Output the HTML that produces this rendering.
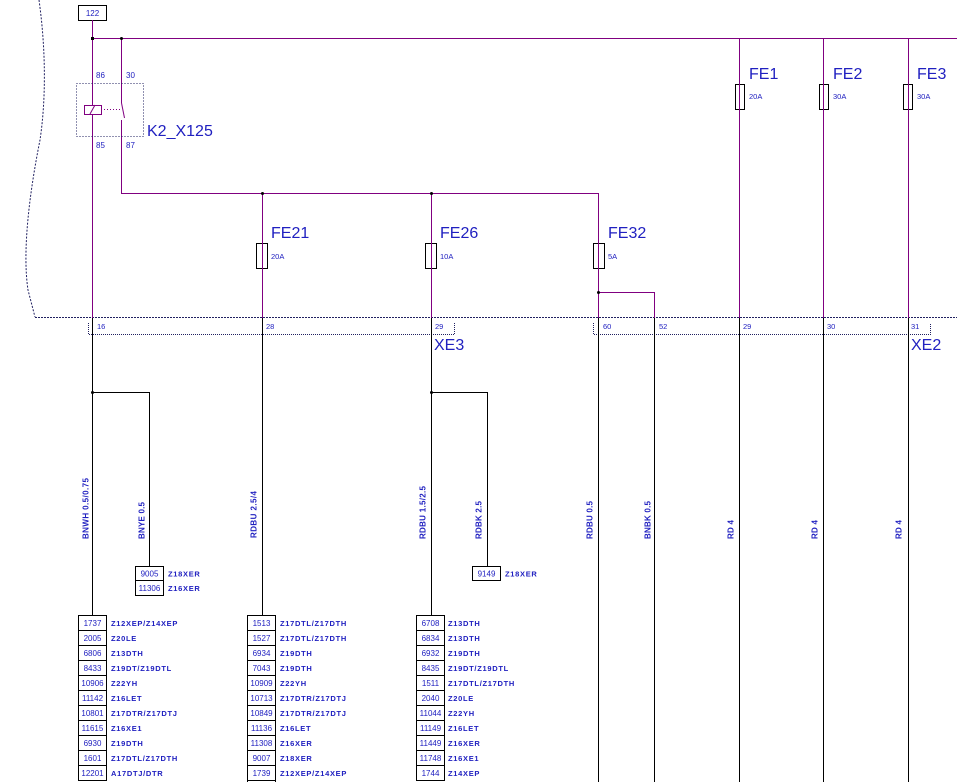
<!DOCTYPE html>
<html><head><meta charset="utf-8"><style>
html,body{margin:0;padding:0;background:#fff;}
svg{display:block;}
text{font-family:"Liberation Sans",Arial,sans-serif;fill:#2020c0;}
.n{font-size:7.5px;}
.nb{font-size:8px;}
.t{font-size:7.5px;font-weight:bold;letter-spacing:0.7px;}
.w{font-size:8px;font-weight:bold;}
.big{font-size:16px;}
.s{font-size:8px;}
</style></head><body>
<svg width="957" height="782" viewBox="0 0 957 782" xmlns="http://www.w3.org/2000/svg">
<rect width="957" height="782" fill="#fff"/>
<!-- left dotted boundary -->
<path d="M39,0 C46,50 46,100 40,140 C30,190 22,250 28,290 L35,317" fill="none" stroke="#202060" stroke-width="1" stroke-dasharray="2,1.5"/>
<line x1="35" y1="317.5" x2="957" y2="317.5" stroke="#202060" stroke-width="1" stroke-dasharray="2,1"/>
<!-- connector boxes -->
<g fill="none" stroke="#202060" stroke-width="1" stroke-dasharray="1,1">
<path d="M88.5,323 V334.5 H454.5 V323"/>
<path d="M593.5,323 V334.5 H930.5 V323"/>
</g>
<!-- 122 box -->
<rect x="78.5" y="5.5" width="28" height="15" fill="#fff" stroke="#000"/>
<text class="s" x="92.5" y="16" text-anchor="middle">122</text>
<!-- purple lines -->
<g stroke="#800080" stroke-width="1" fill="none" shape-rendering="crispEdges">
<line x1="92.5" y1="20" x2="92.5" y2="105"/>
<line x1="92.5" y1="114" x2="92.5" y2="318"/>
<line x1="92" y1="38.5" x2="957" y2="38.5"/>
<line x1="121.5" y1="38" x2="121.5" y2="103"/>
<line x1="121.5" y1="120" x2="121.5" y2="193"/>
<line x1="121" y1="193.5" x2="599" y2="193.5"/>
<line x1="262.5" y1="193" x2="262.5" y2="318"/>
<line x1="431.5" y1="193" x2="431.5" y2="318"/>
<line x1="598.5" y1="193" x2="598.5" y2="318"/>
<line x1="598" y1="292.5" x2="655" y2="292.5"/>
<line x1="654.5" y1="292" x2="654.5" y2="318"/>
<line x1="739.5" y1="38" x2="739.5" y2="318"/>
<line x1="823.5" y1="38" x2="823.5" y2="318"/>
<line x1="908.5" y1="38" x2="908.5" y2="318"/>
</g>
<!-- relay -->
<rect x="76.5" y="83.5" width="67" height="53" fill="none" stroke="#202060" stroke-dasharray="1,2"/>
<rect x="84.5" y="105.5" width="17" height="9" fill="#fff" stroke="#800080"/>
<line x1="90" y1="114" x2="95" y2="105" stroke="#800080"/>
<line x1="101" y1="109.5" x2="121" y2="109.5" stroke="#800080" stroke-dasharray="1,2"/>
<line x1="121.5" y1="103" x2="124.5" y2="118" stroke="#800080"/>
<text class="s" x="96" y="78">86</text>
<text class="s" x="126" y="78">30</text>
<text class="s" x="96" y="148">85</text>
<text class="s" x="126" y="148">87</text>
<text class="big" x="147" y="136">K2_X125</text>
<!-- junctions -->
<rect x="91" y="37" width="3" height="3" fill="#000"/>
<circle cx="121.5" cy="38.5" r="1.5" fill="#000"/>
<circle cx="262.5" cy="193.5" r="1.5" fill="#000"/>
<circle cx="431.5" cy="193.5" r="1.5" fill="#000"/>
<circle cx="598.5" cy="292.5" r="1.5" fill="#000"/>
<!-- fuses -->
<g fill="#fff" stroke="#000">
<rect x="256.5" y="243.5" width="11" height="25"/>
<rect x="425.5" y="243.5" width="11" height="25"/>
<rect x="593.5" y="243.5" width="11" height="25"/>
<rect x="735.5" y="84.5" width="9" height="25"/>
<rect x="819.5" y="84.5" width="9" height="25"/>
<rect x="903.5" y="84.5" width="9" height="25"/>
</g>
<g stroke="#800080">
<line x1="262.5" y1="243" x2="262.5" y2="269"/>
<line x1="431.5" y1="243" x2="431.5" y2="269"/>
<line x1="598.5" y1="243" x2="598.5" y2="269"/>
<line x1="739.5" y1="84" x2="739.5" y2="110"/>
<line x1="823.5" y1="84" x2="823.5" y2="110"/>
<line x1="908.5" y1="84" x2="908.5" y2="110"/>
</g>
<text class="big" x="271" y="238">FE21</text>
<text class="big" x="440" y="238">FE26</text>
<text class="big" x="608" y="238">FE32</text>
<text class="big" x="749" y="79">FE1</text>
<text class="big" x="833" y="79">FE2</text>
<text class="big" x="917" y="79">FE3</text>
<text class="n" x="271" y="259">20A</text>
<text class="n" x="440" y="259">10A</text>
<text class="n" x="608" y="259">5A</text>
<text class="n" x="749" y="99">20A</text>
<text class="n" x="833" y="99">30A</text>
<text class="n" x="917" y="99">30A</text>
<!-- connector labels -->
<text class="n" x="97" y="329">16</text>
<text class="n" x="266" y="329">28</text>
<text class="n" x="435" y="329">29</text>
<text class="n" x="603" y="329">60</text>
<text class="n" x="659" y="329">52</text>
<text class="n" x="743" y="329">29</text>
<text class="n" x="827" y="329">30</text>
<text class="n" x="911" y="329">31</text>
<text class="big" x="434" y="350">XE3</text>
<text class="big" x="911" y="350">XE2</text>
<!-- black lines below -->
<g stroke="#000" stroke-width="1" fill="none" shape-rendering="crispEdges">
<line x1="92.5" y1="318" x2="92.5" y2="615"/>
<line x1="92" y1="392.5" x2="150" y2="392.5"/>
<line x1="149.5" y1="392" x2="149.5" y2="566"/>
<line x1="262.5" y1="318" x2="262.5" y2="615"/>
<line x1="431.5" y1="318" x2="431.5" y2="615"/>
<line x1="431" y1="392.5" x2="488" y2="392.5"/>
<line x1="487.5" y1="392" x2="487.5" y2="566"/>
<line x1="598.5" y1="318" x2="598.5" y2="782"/>
<line x1="654.5" y1="318" x2="654.5" y2="782"/>
<line x1="739.5" y1="318" x2="739.5" y2="782"/>
<line x1="823.5" y1="318" x2="823.5" y2="782"/>
<line x1="908.5" y1="318" x2="908.5" y2="782"/>
</g>
<circle cx="92.5" cy="392.5" r="1.5" fill="#000"/>
<circle cx="431.5" cy="392.5" r="1.5" fill="#000"/>
<!-- wire labels -->
<text class="w" transform="translate(88.5,539) rotate(-90)" textLength="61" lengthAdjust="spacing">BNWH 0.5/0.75</text>
<text class="w" transform="translate(144.5,539) rotate(-90)" textLength="37" lengthAdjust="spacing">BNYE 0.5</text>
<text class="w" transform="translate(256.5,538) rotate(-90)" textLength="47" lengthAdjust="spacing">RDBU 2.5/4</text>
<text class="w" transform="translate(425.5,539) rotate(-90)" textLength="53" lengthAdjust="spacing">RDBU 1.5/2.5</text>
<text class="w" transform="translate(481.5,539) rotate(-90)" textLength="38" lengthAdjust="spacing">RDBK 2.5</text>
<text class="w" transform="translate(592.5,539) rotate(-90)" textLength="38" lengthAdjust="spacing">RDBU 0.5</text>
<text class="w" transform="translate(650.5,539) rotate(-90)" textLength="38" lengthAdjust="spacing">BNBK 0.5</text>
<text class="w" transform="translate(733.5,539) rotate(-90)" textLength="19" lengthAdjust="spacing">RD 4</text>
<text class="w" transform="translate(817.5,539) rotate(-90)" textLength="19" lengthAdjust="spacing">RD 4</text>
<text class="w" transform="translate(901.5,539) rotate(-90)" textLength="19" lengthAdjust="spacing">RD 4</text>
<!-- small boxes -->
<g fill="#fff" stroke="#000">
<rect x="135.5" y="566.5" width="28" height="14"/>
<rect x="135.5" y="580.5" width="28" height="15"/>
<rect x="472.5" y="566.5" width="28" height="14"/>
</g>
<text class="nb" x="149.5" y="576.5" text-anchor="middle">9005</text>
<text class="nb" x="149.5" y="591" text-anchor="middle">11306</text>
<text class="t" x="168" y="576.5">Z18XER</text>
<text class="t" x="168" y="591">Z16XER</text>
<text class="nb" x="486.5" y="576.5" text-anchor="middle">9149</text>
<text class="t" x="505" y="576.5">Z18XER</text>
<!-- tables -->
<g fill="#fff" stroke="#000">
<rect x="78.5" y="615.5" width="28" height="15"/><rect x="78.5" y="630.5" width="28" height="15"/><rect x="78.5" y="645.5" width="28" height="15"/><rect x="78.5" y="660.5" width="28" height="15"/><rect x="78.5" y="675.5" width="28" height="15"/><rect x="78.5" y="690.5" width="28" height="15"/><rect x="78.5" y="705.5" width="28" height="15"/><rect x="78.5" y="720.5" width="28" height="15"/><rect x="78.5" y="735.5" width="28" height="15"/><rect x="78.5" y="750.5" width="28" height="15"/><rect x="78.5" y="765.5" width="28" height="15"/>
<rect x="247.5" y="615.5" width="28" height="15"/><rect x="247.5" y="630.5" width="28" height="15"/><rect x="247.5" y="645.5" width="28" height="15"/><rect x="247.5" y="660.5" width="28" height="15"/><rect x="247.5" y="675.5" width="28" height="15"/><rect x="247.5" y="690.5" width="28" height="15"/><rect x="247.5" y="705.5" width="28" height="15"/><rect x="247.5" y="720.5" width="28" height="15"/><rect x="247.5" y="735.5" width="28" height="15"/><rect x="247.5" y="750.5" width="28" height="15"/><rect x="247.5" y="765.5" width="28" height="15"/><rect x="247.5" y="780.5" width="28" height="15"/>
<rect x="416.5" y="615.5" width="28" height="15"/><rect x="416.5" y="630.5" width="28" height="15"/><rect x="416.5" y="645.5" width="28" height="15"/><rect x="416.5" y="660.5" width="28" height="15"/><rect x="416.5" y="675.5" width="28" height="15"/><rect x="416.5" y="690.5" width="28" height="15"/><rect x="416.5" y="705.5" width="28" height="15"/><rect x="416.5" y="720.5" width="28" height="15"/><rect x="416.5" y="735.5" width="28" height="15"/><rect x="416.5" y="750.5" width="28" height="15"/><rect x="416.5" y="765.5" width="28" height="15"/>
</g>
<g text-anchor="middle">
<text class="nb" x="92.5" y="626">1737</text><text class="nb" x="92.5" y="641">2005</text><text class="nb" x="92.5" y="656">6806</text><text class="nb" x="92.5" y="671">8433</text><text class="nb" x="92.5" y="686">10906</text><text class="nb" x="92.5" y="701">11142</text><text class="nb" x="92.5" y="716">10801</text><text class="nb" x="92.5" y="731">11615</text><text class="nb" x="92.5" y="746">6930</text><text class="nb" x="92.5" y="761">1601</text><text class="nb" x="92.5" y="776">12201</text>
<text class="nb" x="261.5" y="626">1513</text><text class="nb" x="261.5" y="641">1527</text><text class="nb" x="261.5" y="656">6934</text><text class="nb" x="261.5" y="671">7043</text><text class="nb" x="261.5" y="686">10909</text><text class="nb" x="261.5" y="701">10713</text><text class="nb" x="261.5" y="716">10849</text><text class="nb" x="261.5" y="731">11136</text><text class="nb" x="261.5" y="746">11308</text><text class="nb" x="261.5" y="761">9007</text><text class="nb" x="261.5" y="776">1739</text>
<text class="nb" x="430.5" y="626">6708</text><text class="nb" x="430.5" y="641">6834</text><text class="nb" x="430.5" y="656">6932</text><text class="nb" x="430.5" y="671">8435</text><text class="nb" x="430.5" y="686">1511</text><text class="nb" x="430.5" y="701">2040</text><text class="nb" x="430.5" y="716">11044</text><text class="nb" x="430.5" y="731">11149</text><text class="nb" x="430.5" y="746">11449</text><text class="nb" x="430.5" y="761">11748</text><text class="nb" x="430.5" y="776">1744</text>
</g>
<g>
<text class="t" x="111" y="626">Z12XEP/Z14XEP</text><text class="t" x="111" y="641">Z20LE</text><text class="t" x="111" y="656">Z13DTH</text><text class="t" x="111" y="671">Z19DT/Z19DTL</text><text class="t" x="111" y="686">Z22YH</text><text class="t" x="111" y="701">Z16LET</text><text class="t" x="111" y="716">Z17DTR/Z17DTJ</text><text class="t" x="111" y="731">Z16XE1</text><text class="t" x="111" y="746">Z19DTH</text><text class="t" x="111" y="761">Z17DTL/Z17DTH</text><text class="t" x="111" y="776">A17DTJ/DTR</text>
<text class="t" x="280" y="626">Z17DTL/Z17DTH</text><text class="t" x="280" y="641">Z17DTL/Z17DTH</text><text class="t" x="280" y="656">Z19DTH</text><text class="t" x="280" y="671">Z19DTH</text><text class="t" x="280" y="686">Z22YH</text><text class="t" x="280" y="701">Z17DTR/Z17DTJ</text><text class="t" x="280" y="716">Z17DTR/Z17DTJ</text><text class="t" x="280" y="731">Z16LET</text><text class="t" x="280" y="746">Z16XER</text><text class="t" x="280" y="761">Z18XER</text><text class="t" x="280" y="776">Z12XEP/Z14XEP</text>
<text class="t" x="448" y="626">Z13DTH</text><text class="t" x="448" y="641">Z13DTH</text><text class="t" x="448" y="656">Z19DTH</text><text class="t" x="448" y="671">Z19DT/Z19DTL</text><text class="t" x="448" y="686">Z17DTL/Z17DTH</text><text class="t" x="448" y="701">Z20LE</text><text class="t" x="448" y="716">Z22YH</text><text class="t" x="448" y="731">Z16LET</text><text class="t" x="448" y="746">Z16XER</text><text class="t" x="448" y="761">Z16XE1</text><text class="t" x="448" y="776">Z14XEP</text>
</g>
</svg>
</body></html>
